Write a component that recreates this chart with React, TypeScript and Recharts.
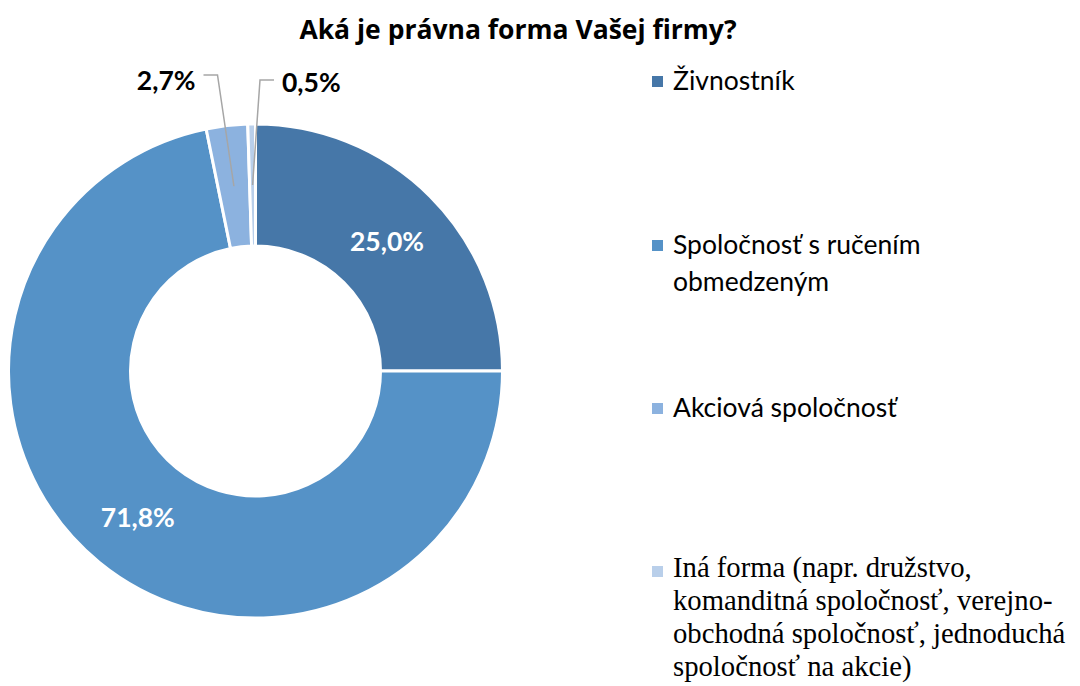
import React from "react";
import { PieChart, Pie, Cell, Legend } from "recharts";

const categories = [
  "Živnostník",
  "Spoločnosť s ručením obmedzeným",
  "Akciová spoločnosť",
  "Iná forma (napr. družstvo, komanditná spoločnosť, verejno-obchodná spoločnosť, jednoduchá spoločnosť na akcie)",
];
const values = [25.0, 71.8, 2.7, 0.5];
const valueLabels = ["25,0%", "71,8%", "2,7%", "0,5%"];
const colors = ["#4677A8", "#5592C7", "#8CB2DF", "#B9CFEA"];
const legendLines = [
  ["Živnostník"],
  ["Spoločnosť s ručením", "obmedzeným"],
  ["Akciová spoločnosť"],
  ["Iná forma (napr. družstvo,", "komanditná spoločnosť, verejno-", "obchodná spoločnosť, jednoduchá", "spoločnosť na akcie)"],
];

const data = categories.map((name, i) => ({ name, value: values[i], label: valueLabels[i] }));

const TITLE = "'Open Sans', Lato, sans-serif";
const SANS = "Lato, 'Open Sans', sans-serif";
const SERIF = "'Liberation Serif', 'DejaVu Serif', serif";
const RAD = Math.PI / 180;

const outsideCfg: Record<number, { elbowDx: number; elbowDy: number; textDy: number; dir: number }> = {
  2: { elbowDx: -38, elbowDy: -296, textDy: 5, dir: -1 },
  3: { elbowDx: 4.5, elbowDy: -291, textDy: 2, dir: 1 },
};

const renderLabel = (props: any) => {
  const { cx, cy, midAngle, innerRadius, outerRadius, index } = props;
  const r = (innerRadius + outerRadius) / 2;
  const x = cx + r * Math.cos(-midAngle * RAD);
  const y = cy + r * Math.sin(-midAngle * RAD);
  if (index < 2) {
    return (
      <text
        x={x}
        y={y + 2}
        fill="#fff"
        textAnchor="middle"
        dominantBaseline="central"
        fontFamily={SANS}
        fontWeight={700}
        fontSize={26.5}
      >
        {data[index].label}
      </text>
    );
  }
  const cfg = outsideCfg[index];
  const ey = cy + cfg.elbowDy;
  const ex = cx + cfg.elbowDx;
  const hx = ex + cfg.dir * 14;
  return (
    <g>
      <polyline
        points={`${x},${y} ${ex},${ey} ${hx},${ey}`}
        fill="none"
        stroke="#A6A6A6"
        strokeWidth={1.5}
      />
      <text
        x={hx + cfg.dir * 8}
        y={ey + cfg.textDy}
        fill="#000"
        textAnchor={cfg.dir < 0 ? "end" : "start"}
        dominantBaseline="central"
        fontFamily={SANS}
        fontWeight={700}
        fontSize={26.5}
      >
        {data[index].label}
      </text>
    </g>
  );
};

const renderLegend = () => (
  <div style={{ position: "relative", width: 420, height: 620 }}>
    {legendLines.map((lines, i) => (
      <div
        key={i}
        style={{
          position: "absolute",
          left: 0,
          top: i * 163.7 - (i === 3 ? 2 : 0),
          display: "flex",
          alignItems: "flex-start",
        }}
      >
        <div
          style={{
            width: 11,
            height: 11,
            background: colors[i],
            marginTop: i === 3 ? 15 : 14,
            marginRight: 10,
            flex: "none",
          }}
        />
        <div
          style={{
            fontFamily: i === 3 ? SERIF : SANS,
            fontSize: i === 3 ? 28.7 : 26.5,
            lineHeight: i === 3 ? "33px" : "37px",
            color: "#000",
            whiteSpace: "nowrap",
          }}
        >
          {lines.map((l, j) => (
            <div key={j}>{l}</div>
          ))}
        </div>
      </div>
    ))}
  </div>
);

export default function App() {
  return (
    <div style={{ position: "absolute", left: 0, top: 0, width: 1080, height: 686, background: "#fff", overflow: "hidden" }}>
      <div
        style={{
          position: "absolute",
          left: 0,
          top: 11,
          width: 1036,
          textAlign: "center",
          fontFamily: TITLE,
          fontWeight: 700,
          fontSize: 26.5,
          lineHeight: "36px",
          color: "#000",
        }}
      >
        Aká je právna forma Vašej firmy?
      </div>
      <PieChart width={1080} height={686} margin={{ top: 0, right: 0, bottom: 0, left: 0 }}>
        <Pie
          data={data}
          dataKey="value"
          nameKey="name"
          cx={255.5}
          cy={371}
          innerRadius={125}
          outerRadius={247}
          startAngle={90}
          endAngle={-270}
          stroke="#fff"
          strokeWidth={3}
          isAnimationActive={false}
          label={renderLabel}
          labelLine={false}
        >
          {data.map((d, i) => (
            <Cell key={d.name} fill={colors[i]} />
          ))}
        </Pie>
        <Legend
          content={renderLegend}
          layout="vertical"
          verticalAlign="top"
          align="right"
          wrapperStyle={{ position: "absolute", left: 652, top: 62, width: 420 }}
        />
      </PieChart>
    </div>
  );
}
